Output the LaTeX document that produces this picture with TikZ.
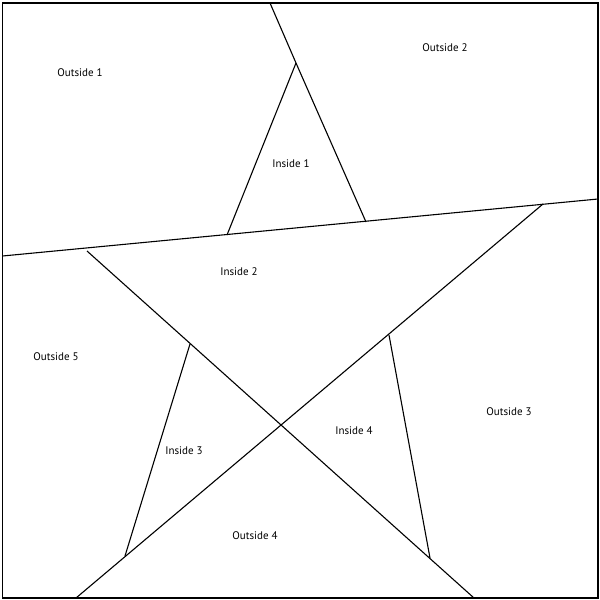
\documentclass[tikz,border=0pt]{standalone}
\usepackage{fontspec}
\setmainfont{PT Sans}
\begin{document}
\begin{tikzpicture}[x=1pt,y=-1pt,
  edge/.style={draw=black,line width=1.1pt},
  lbl/.style={font=\fontsize{11}{13}\selectfont,inner sep=0pt}]
\useasboundingbox (0,0) rectangle (600,600);
\fill[white] (0,0) rectangle (600,600);
\draw[edge] (2.5,3) rectangle (598,598);
% coordinates
\coordinate (t0) at (270,3);
\coordinate (apex) at (296,63);
\coordinate (rf) at (366,222);
\coordinate (lf) at (227,235);
\coordinate (hl) at (2.5,256);
\coordinate (hr) at (598,199);
\coordinate (tipR) at (543,204);
\coordinate (b4) at (76,598);
\coordinate (tipL) at (87,251);
\coordinate (b5) at (474,598);
\coordinate (u6) at (190,344);
\coordinate (f6) at (125,556);
\coordinate (u7) at (389,335);
\coordinate (f7) at (430,558);
% lines
\draw[edge] (t0) -- (apex) -- (rf);
\draw[edge] (apex) -- (lf);
\draw[edge] (hl) -- (hr);
\draw[edge] (tipR) -- (b4);
\draw[edge] (tipL) -- (b5);
\draw[edge] (u6) -- (f6);
\draw[edge] (u7) -- (f7);
% labels
\node[lbl] (o1) at (80,73) {Outside 1};
\node[lbl] (o2) at (445,48) {Outside 2};
\node[lbl] (i1) at (291,164) {Inside 1};
\node[lbl] (i2) at (239,272) {Inside 2};
\node[lbl] (o5) at (56,357) {Outside 5};
\node[lbl] (i3) at (184,451) {Inside 3};
\node[lbl] (i4) at (354,431) {Inside 4};
\node[lbl] (o3) at (509,412) {Outside 3};
\node[lbl] (o4) at (255,536) {Outside 4};
\end{tikzpicture}
\end{document}
